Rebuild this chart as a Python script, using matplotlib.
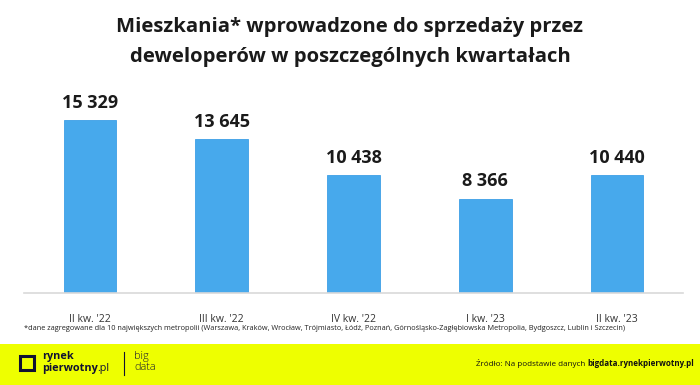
import matplotlib.pyplot as plt
from matplotlib.patches import Rectangle

# Data
quarters = ["II kw. '22", "III kw. '22", "IV kw. '22", "I kw. '23", "II kw. '23"]
flats = [15329, 13645, 10438, 8366, 10440]

bar_color = '#47a9ec'
footer_color = '#eeff00'
text_color = '#1a1a1a'
logo_color = '#111133'
font = 'Open Sans'

fig = plt.figure(figsize=(7.0, 3.85), dpi=100)
W, H = 700, 385

# axes placed in pixel coords: x 24..683, y 80..293 (from top)
ax = fig.add_axes([24 / W, 1 - 293 / H, (683 - 24) / W, (293 - 80) / H])
positions = list(range(len(quarters)))
ax.bar(positions, flats, width=0.4, color=bar_color, edgecolor='#3d9fe6', linewidth=0.6, zorder=2)
ax.set_xlim(-0.5, 4.5)
ax.set_ylim(0, 18866)

for x, v in zip(positions, flats):
    label = f"{v:,}".replace(",", " ")
    ax.annotate(label, (x, v), xytext=(0, 6), textcoords='offset points',
                ha='center', va='bottom', fontsize=13, fontweight='bold',
                family=font, color=text_color)

ax.set_xticks(positions)
ax.set_xticklabels(quarters, fontsize=7.5, color='#333333', family=font)
ax.tick_params(axis='x', length=0, pad=15)
ax.set_yticks([])
for side in ['left', 'right', 'top']:
    ax.spines[side].set_visible(False)
ax.spines['bottom'].set_color('#d9d9d9')
ax.spines['bottom'].set_linewidth(1.2)

# Title
fig.text(0.5, 1 - 27 / H, "Mieszkania* wprowadzone do sprzedaży przez",
         ha='center', va='center', fontsize=14.6, fontweight='bold', family=font, color=text_color)
fig.text(0.5, 1 - 57 / H, "deweloperów w poszczególnych kwartałach",
         ha='center', va='center', fontsize=14.6, fontweight='bold', family=font, color=text_color)

# Footnote
fig.text(24 / W, 1 - 328 / H,
         "*dane zagregowane dla 10 największych metropolii (Warszawa, Kraków, Wrocław, Trójmiasto, Łódź, "
         "Poznań, Górnośląsko-Zagłębiowska Metropolia, Bydgoszcz, Lublin i Szczecin)",
         ha='left', va='center', fontsize=5.3, family=font, color='#222222')

# Footer band
fig.patches.append(Rectangle((0, 0), 1, 1 - 344 / H, transform=fig.transFigure,
                             facecolor=footer_color, edgecolor='none', zorder=0))
# logo square
fig.patches.append(Rectangle((20 / W, 1 - 370 / H), 14 / W, 14 / H, transform=fig.transFigure,
                             facecolor='none', edgecolor=logo_color, linewidth=2.2, zorder=1))
fig.text(42 / W, 1 - 357 / H, "rynek", ha='left', va='center', fontsize=7.8,
         fontweight='bold', family=font, color=logo_color)
pier = fig.text(42 / W, 1 - 368 / H, "pierwotny", ha='left', va='center', fontsize=7.8,
                fontweight='bold', family=font, color=logo_color)
pl = fig.text(97 / W, 1 - 368 / H, ".pl", ha='left', va='center', fontsize=7.8,
              family=font, color=logo_color)
fig.add_artist(plt.Line2D([124 / W, 124 / W], [1 - 352 / H, 1 - 375 / H],
                          color=logo_color, linewidth=0.8))
fig.text(134 / W, 1 - 357 / H, "big", ha='left', va='center', fontsize=7.8,
         family=font, fontweight='light', color=logo_color)
fig.text(134 / W, 1 - 368 / H, "data", ha='left', va='center', fontsize=7.8,
         family=font, fontweight='light', color=logo_color)

src_plain = fig.text(694 / W, 1 - 363 / H, "Źródło: Na podstawie danych ", ha='right', va='center',
                     fontsize=5.8, family=font, color='#111111')
src = fig.text(694 / W, 1 - 363 / H, "bigdata.rynekpierwotny.pl", ha='right', va='center',
               fontsize=5.8, family=font, fontweight='bold', color='#111111')

# place pieces next to each other
fig.canvas.draw()
r = fig.canvas.get_renderer()
bw = src.get_window_extent(r).width
src_plain.set_position(((694 - bw) / W, 1 - 363 / H))
pw = pier.get_window_extent(r).x1
pl.set_position((pw / W, 1 - 368 / H))

fig.savefig('out.png', dpi=100)
